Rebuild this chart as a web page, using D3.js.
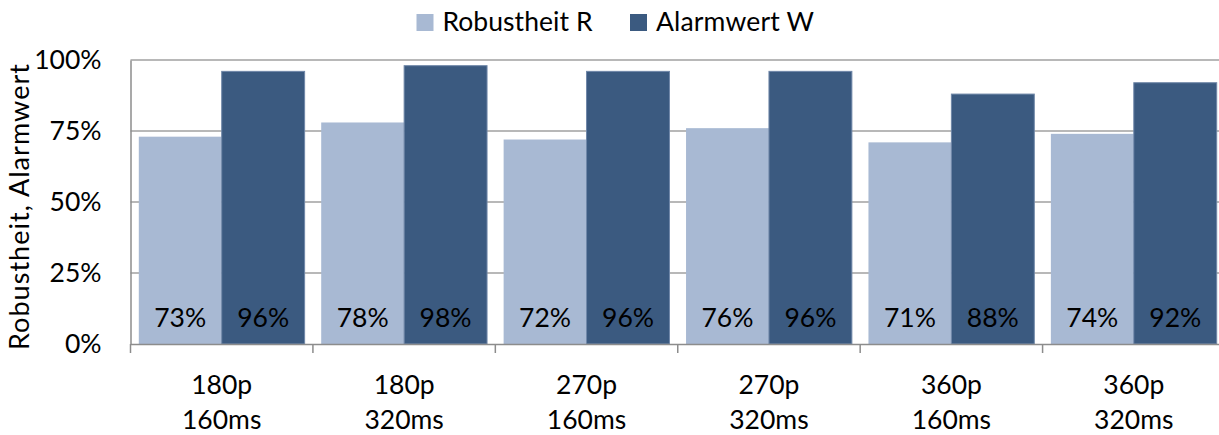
<!DOCTYPE html>
<html>
<head>
<meta charset="utf-8">
<script src="https://cdn.jsdelivr.net/npm/d3@7/dist/d3.min.js"></script>
<style>
  html, body { margin: 0; padding: 0; background: #ffffff; }
  svg { display: block; }
  text { font-family: Lato, "Open Sans", sans-serif; fill: #000; }
</style>
</head>
<body>
<svg id="chart" width="1219" height="435"></svg>
<script>
// Test configurations (resolution / interval)
const categories = ["180p\n160ms", "180p\n320ms", "270p\n160ms", "270p\n320ms", "360p\n160ms", "360p\n320ms"];
const seriesNames = ["Robustheit R", "Alarmwert W"];
const robustheit = [0.73, 0.78, 0.72, 0.76, 0.71, 0.74];
const alarmwert = [0.96, 0.98, 0.96, 0.96, 0.88, 0.92];
const yTicks = [0, 0.25, 0.5, 0.75, 1];
const colors = ["#A8B9D3", "#3B5A80"];

const svg = d3.select("#chart");
const fontSize = 26.5;

const plot = { left: 130.5, right: 1225, top: 60, bottom: 344 };

const x0 = d3.scaleBand().domain(categories).range([plot.left, plot.right]).paddingInner(0).paddingOuter(0);
const x1 = d3.scaleBand().domain(seriesNames).range([0, x0.bandwidth()]).paddingInner(0).paddingOuter(0.1);
const y = d3.scaleLinear().domain([0, 1]).range([plot.bottom, plot.top]);
const pct = d3.format(".0%");

// Horizontal gridlines
svg.append("g")
  .selectAll("line")
  .data(yTicks.filter(d => d > 0))
  .join("line")
  .attr("x1", plot.left).attr("x2", plot.right)
  .attr("y1", d => y(d)).attr("y2", d => y(d))
  .attr("stroke", "#a0a0a0").attr("stroke-width", 1.5);

// Bars
const rows = categories.map((c, i) => ({ cat: c, values: [robustheit[i], alarmwert[i]] }));
const groups = svg.append("g").selectAll("g")
  .data(rows)
  .join("g")
  .attr("transform", d => `translate(${x0(d.cat)},0)`);

groups.selectAll("rect")
  .data(d => d.values.map((v, j) => ({ name: seriesNames[j], v, j })))
  .join("rect")
  .attr("x", d => x1(d.name))
  .attr("y", d => y(d.v))
  .attr("width", x1.bandwidth())
  .attr("height", d => y(0) - y(d.v))
  .attr("fill", d => colors[d.j])
  .attr("stroke", d => d.j === 1 ? "#6f87a8" : "none")
  .attr("stroke-width", 1);

// Value labels near bar bottoms
groups.selectAll("text.val")
  .data(d => d.values.map((v, j) => ({ name: seriesNames[j], v, j })))
  .join("text")
  .attr("class", "val")
  .attr("x", d => x1(d.name) + x1.bandwidth() / 2)
  .attr("y", 327)
  .attr("text-anchor", "middle")
  .attr("font-size", fontSize)
  .text(d => pct(d.v));

// Axes
const yAxis = d3.axisLeft(y).tickValues(yTicks).tickFormat(pct).tickSize(0).tickPadding(29);
const gy = svg.append("g").attr("transform", `translate(${plot.left},0)`).call(yAxis);
gy.select(".domain").attr("stroke", "#8c8c8c").attr("stroke-width", 1.5);
gy.selectAll("text").attr("font-size", fontSize).attr("fill", "#000")
  .style("font-family", "Lato, 'Open Sans', sans-serif");

const xAxis = d3.axisBottom(x0).tickSize(0).tickFormat("");
const gx = svg.append("g").attr("transform", `translate(0,${plot.bottom})`).call(xAxis);
gx.select(".domain").attr("stroke", "#8c8c8c").attr("stroke-width", 1.5);

// Category boundary ticks
const bounds = categories.map(c => x0(c)).concat([x0(categories[categories.length - 1]) + x0.bandwidth()]);
svg.append("g").selectAll("line")
  .data(bounds)
  .join("line")
  .attr("x1", d => d).attr("x2", d => d)
  .attr("y1", plot.bottom).attr("y2", plot.bottom + 9)
  .attr("stroke", "#8c8c8c").attr("stroke-width", 1.5);

// Two-line category labels
const catLabels = svg.append("g").selectAll("text")
  .data(categories)
  .join("text")
  .attr("text-anchor", "middle")
  .attr("font-size", fontSize)
  .attr("x", d => x0(d) + x0.bandwidth() / 2);
catLabels.selectAll("tspan")
  .data(d => d.split("\n").map((t, k) => ({ t, k, x: x0(d) + x0.bandwidth() / 2 })))
  .join("tspan")
  .attr("x", d => d.x)
  .attr("y", d => 394 + d.k * 34.5)
  .text(d => d.t);

// Y axis title
svg.append("text")
  .attr("transform", `translate(29,${(plot.top + plot.bottom) / 2 + 5}) rotate(-90)`)
  .attr("text-anchor", "middle")
  .attr("font-size", 27)
  .attr("textLength", 286)
  .attr("lengthAdjust", "spacing")
  .text("Robustheit, Alarmwert");

// Legend
const legendX = [416.5, 630];
const legendLen = [150, 158];
const legend = svg.append("g").selectAll("g")
  .data(seriesNames)
  .join("g")
  .attr("transform", (d, i) => `translate(${legendX[i]},0)`);
legend.append("rect")
  .attr("x", 0).attr("y", 14)
  .attr("width", 17).attr("height", 17)
  .attr("fill", (d, i) => colors[i]);
legend.append("text")
  .attr("x", 26).attr("y", 31)
  .attr("font-size", fontSize)
  .attr("textLength", (d, i) => legendLen[i])
  .attr("lengthAdjust", "spacing")
  .text(d => d);
</script>
</body>
</html>
